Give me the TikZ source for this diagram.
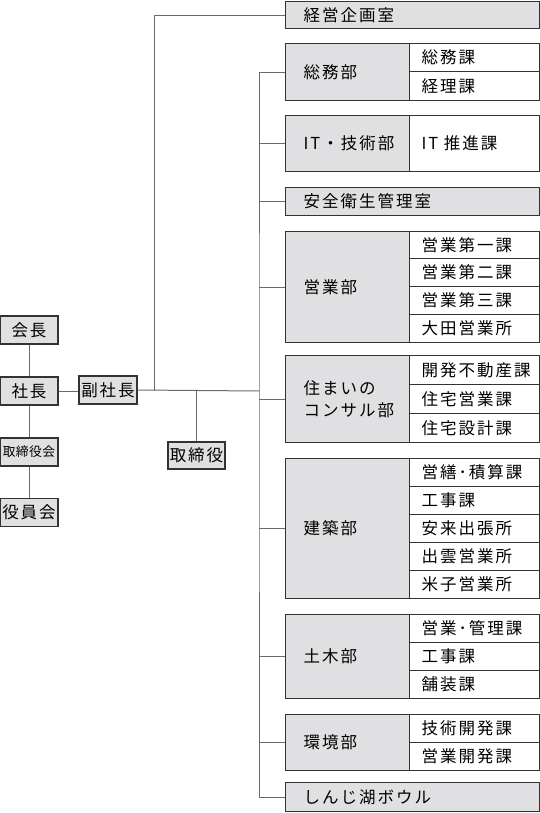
\documentclass[tikz,border=0pt]{standalone}
\usepackage{fontspec}
\newfontfamily\jp{Noto Sans CJK JP}[LetterSpace=12]
\newfontfamily\jps{Noto Sans CJK JP}[LetterSpace=3]
\definecolor{boxg}{HTML}{E0E0E2}
\definecolor{bordc}{HTML}{333333}
\definecolor{linec}{HTML}{6A6A6A}
\tikzset{
  base/.style={draw=bordc, line width=1.3pt, inner ysep=0pt, anchor=north west,
    font=\jp\fontsize{16.5}{22}\selectfont},
  dept/.style={base, fill=boxg, inner xsep=18pt, text width=88pt, minimum width=124pt, align=left},
  fullbox/.style={base, fill=boxg, inner xsep=18pt, text width=218pt, minimum width=254pt, align=left},
  sub/.style={base, fill=white, inner xsep=12pt, text width=106pt, minimum width=130pt, align=left},
  lbox/.style={base, fill=boxg, anchor=center, inner xsep=0pt, minimum width=58pt, minimum height=28pt, align=center},
  conn/.style={draw=linec, line width=1pt}
}
\begin{document}
\begin{tikzpicture}[x=1pt,y=-1pt]
\useasboundingbox (0,0) rectangle (540,813);
% left column
\node[lbox] (kaicho) at (29,330) {会長};
\node[lbox] (shacho) at (29,391) {社長};
\node[lbox, font=\jps\fontsize{12.8}{15}\selectfont] (torikai) at (29,452) {取締役会};
\node[lbox] (yakuin) at (29,512.5) {役員会};
\node[lbox] (fuku) at (108,390) {副社長};
\node[lbox, minimum width=57pt, minimum height=27pt] (tori) at (196.5,455.5) {取締役};
% right column
\node[fullbox, minimum height=27pt] (kei) at (285,1) {経営企画室};
\node[dept, minimum height=57pt] (soumu) at (285,43) {総務部};
\node[sub, minimum height=28pt] (s1) at (409,43) {総務課};
\node[sub, minimum height=29pt] (s2) at (409,71) {経理課};
\node[dept, minimum height=56pt] (it) at (285,115) {IT・技術部};
\node[sub, minimum height=56pt] (it1) at (409,115) {IT 推進課};
\node[fullbox, minimum height=28pt] (anzen) at (285,187) {安全衛生管理室};
\node[dept, minimum height=111pt] (eigyo) at (285,231) {営業部};
\node[sub, minimum height=27pt] (e1) at (409,231) {営業第一課};
\node[sub, minimum height=28pt] (e2) at (409,258) {営業第二課};
\node[sub, minimum height=28pt] (e3) at (409,286) {営業第三課};
\node[sub, minimum height=28pt] (e4) at (409,314) {大田営業所};
\node[dept, minimum height=87pt] (sumai) at (285,355) {住まいの\\コンサル部};
\node[sub, minimum height=29pt] (m1) at (409,355) {開発不動産課};
\node[sub, minimum height=29pt] (m2) at (409,384) {住宅営業課};
\node[sub, minimum height=29pt] (m3) at (409,413) {住宅設計課};
\node[dept, minimum height=140pt] (kenchiku) at (285,458) {建築部};
\node[sub, minimum height=28pt] (k1) at (409,458) {営繕･積算課};
\node[sub, minimum height=28pt] (k2) at (409,486) {工事課};
\node[sub, minimum height=28pt] (k3) at (409,514) {安来出張所};
\node[sub, minimum height=28pt] (k4) at (409,542) {出雲営業所};
\node[sub, minimum height=28pt] (k5) at (409,570) {米子営業所};
\node[dept, minimum height=84pt] (doboku) at (285,614) {土木部};
\node[sub, minimum height=28pt] (d1) at (409,614) {営業･管理課};
\node[sub, minimum height=28pt] (d2) at (409,642) {工事課};
\node[sub, minimum height=28pt] (d3) at (409,670) {舗装課};
\node[dept, minimum height=56pt] (kankyo) at (285,714) {環境部};
\node[sub, minimum height=28pt] (v1) at (409,714) {技術開発課};
\node[sub, minimum height=28pt] (v2) at (409,742) {営業開発課};
\node[fullbox, minimum height=29pt] (bowl) at (285,782) {しんじ湖ボウル};
% junctions
\coordinate (tr) at (259,391);
\coordinate (j1) at (154,391);
\coordinate (j2) at (196.5,391);
% connectors
\draw[conn] (kaicho) -- (shacho);
\draw[conn] (shacho) -- (torikai);
\draw[conn] (torikai) -- (yakuin);
\draw[conn] (shacho.east) -- (fuku.west |- shacho.east);
\draw[conn] (fuku.east) -- (tr);
\draw[conn] (kei.west) -| (j1);
\draw[conn] (j2) -- (tori.north);
\draw[conn] (soumu.west) -| (tr) |- (bowl.west);
\foreach \d in {it,anzen,eigyo,sumai,kenchiku,doboku,kankyo}
  \draw[conn] (\d.west) -- (tr |- \d.west);
\end{tikzpicture}
\end{document}
